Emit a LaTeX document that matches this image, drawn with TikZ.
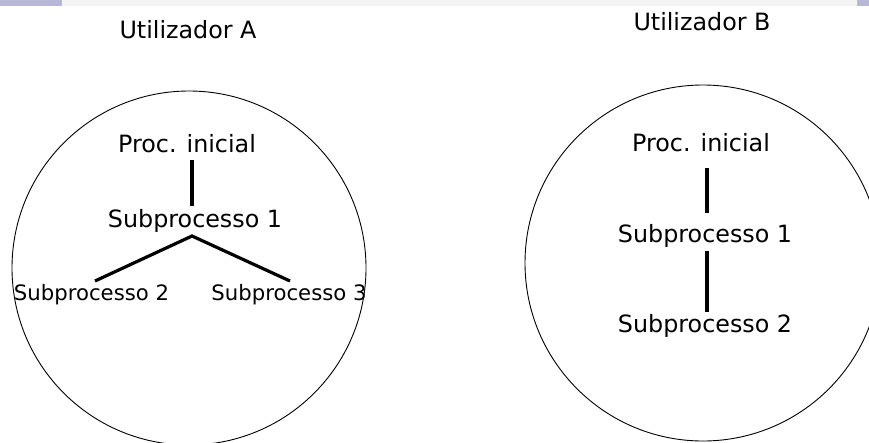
\documentclass[tikz,border=0pt]{standalone}
\usepackage{fontspec}
\setmainfont{DejaVu Sans}
\usetikzlibrary{calc}
\definecolor{barlav}{RGB}{184,184,214}
\definecolor{bargray}{RGB}{244,244,244}
\begin{document}
\begin{tikzpicture}[x=1pt,y=-1pt,
  big/.style={inner sep=0pt,anchor=base,font=\fontsize{23.8}{28}\selectfont},
  small/.style={inner sep=0pt,anchor=base,font=\fontsize{21.2}{25}\selectfont},
  conn/.style={line width=3.2pt},
  ring/.style={line width=0.9pt}]
\useasboundingbox (0,0) rectangle (869,442);
\clip (0,0) rectangle (869,442);
% top bar
\fill[bargray] (62,0) rectangle (857,6);
\fill[barlav] (0,0) rectangle (62,6);
\fill[barlav] (857,0) rectangle (869,6);
% titles
\node[big] (ua) at (188,38) {Utilizador A};
\node[big] (ub) at (702,30) {Utilizador B};
% circles
\draw[ring] (189,268) circle[radius=177pt];
\draw[ring] (703,263) circle[radius=178pt];
% left tree
\node[big] (pA) at (187,152) {Proc. inicial};
\node[big] (s1A) at (195,227) {Subprocesso 1};
\node[small] (s2A) at (91.5,300) {Subprocesso 2};
\node[small] (s3A) at (289,300) {Subprocesso 3};
\draw[conn] ($(pA.base)+(5,8)$) -- ($(s1A.base)+(-3,-21)$);
\draw[conn] ($(s2A.base)+(3.5,-19)$) -- ($(s1A.base)+(-3,9)$) -- ($(s3A.base)+(1,-19)$);
% right tree
\node[big] (pB) at (701,151) {Proc. inicial};
\node[big] (s1B) at (705,242) {Subprocesso 1};
\node[big] (s2B) at (705,332) {Subprocesso 2};
\draw[conn] ($(pB.base)+(6,17)$) -- ($(s1B.base)+(2,-29)$);
\draw[conn] ($(s1B.base)+(2,9)$) -- ($(s2B.base)+(2,-20)$);
\end{tikzpicture}
\end{document}
